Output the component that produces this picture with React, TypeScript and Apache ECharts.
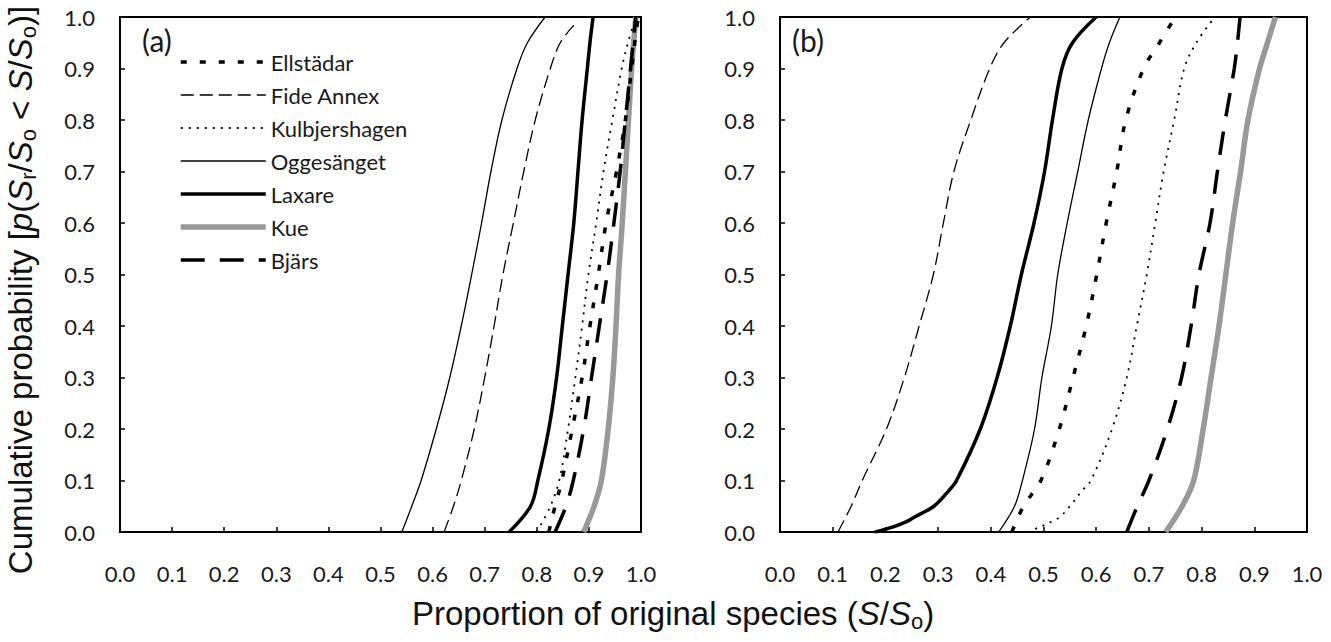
import React, { useEffect, useRef } from "react";
import * as echarts from "echarts";

// probability levels (y) shared by most readings
const P = [0, 0.05, 0.1, 0.2, 0.3, 0.4, 0.5, 0.6, 0.7, 0.8, 0.9, 0.95, 1.0];
const P_FIDE_A = [0, 0.05, 0.1, 0.2, 0.3, 0.4, 0.5, 0.6, 0.7, 0.8, 0.9, 0.95, 0.985];
const P_TOE = [0, 0.01, 0.02, 0.03, 0.05, 0.08, 0.1, 0.2, 0.3, 0.4, 0.5, 0.6, 0.7, 0.8, 0.9, 0.95, 1.0];

// panel (a): proportion of original species at each probability level
const aEllstadar = [0.823, 0.835, 0.848, 0.868, 0.887, 0.902, 0.918, 0.933, 0.953, 0.97, 0.982, 0.988, 0.995];
const aFide = [0.622, 0.64, 0.655, 0.68, 0.7, 0.718, 0.735, 0.755, 0.775, 0.797, 0.826, 0.845, 0.872];
const aKulbj = [0.8, 0.826, 0.843, 0.86, 0.874, 0.887, 0.899, 0.914, 0.928, 0.945, 0.963, 0.975, 0.99];
const aOgges = [0.541, 0.56, 0.578, 0.607, 0.633, 0.655, 0.675, 0.694, 0.712, 0.733, 0.762, 0.782, 0.816];
const aLaxare = [0.747, 0.788, 0.802, 0.823, 0.838, 0.849, 0.86, 0.871, 0.879, 0.887, 0.897, 0.902, 0.908];
const aKue = [0.89, 0.91, 0.924, 0.937, 0.946, 0.952, 0.957, 0.964, 0.97, 0.976, 0.982, 0.986, 0.99];
const aBjars = [0.835, 0.856, 0.87, 0.89, 0.905, 0.92, 0.935, 0.948, 0.96, 0.97, 0.98, 0.985, 0.99];

// panel (b)
const bEllstadar = [0.44, 0.462, 0.495, 0.53, 0.556, 0.581, 0.601, 0.619, 0.639, 0.656, 0.69, 0.72, 0.75];
const bFide = [0.11, 0.135, 0.156, 0.202, 0.236, 0.264, 0.291, 0.31, 0.33, 0.362, 0.398, 0.425, 0.475];
const bKulbj = [0.47, 0.494, 0.515, 0.532, 0.55, 0.573, 0.59, 0.63, 0.658, 0.677, 0.696, 0.712, 0.728, 0.748, 0.767, 0.79, 0.825];
const bOgges = [0.415, 0.445, 0.46, 0.483, 0.497, 0.515, 0.527, 0.545, 0.565, 0.585, 0.61, 0.625, 0.645];
const bLaxare = [0.18, 0.215, 0.24, 0.257, 0.292, 0.32, 0.335, 0.38, 0.412, 0.437, 0.458, 0.482, 0.502, 0.517, 0.535, 0.555, 0.6];
const bKue = [0.732, 0.763, 0.785, 0.803, 0.818, 0.833, 0.846, 0.859, 0.874, 0.888, 0.91, 0.925, 0.94];
const bBjars = [0.658, 0.678, 0.7, 0.735, 0.762, 0.78, 0.795, 0.816, 0.83, 0.845, 0.862, 0.868, 0.873];

const SITES = ["Ellstädar", "Fide Annex", "Kulbjershagen", "Oggesänget", "Laxare", "Kue", "Bjärs"];
const TICK_FONT = "Lato, 'Open Sans', sans-serif";
const TITLE_FONT = "'Liberation Sans', Arial, sans-serif";

const styles: Record<string, any> = {
  "Ellstädar": { color: "#000", width: 3.5, type: [6, 13] },
  "Fide Annex": { color: "#000", width: 1.3, type: [13, 6] },
  "Kulbjershagen": { color: "#000", width: 1.8, type: [2, 6] },
  "Oggesänget": { color: "#000", width: 1.3, type: "solid" },
  "Laxare": { color: "#000", width: 3.5, type: "solid" },
  "Kue": { color: "#999999", width: 5.5, type: "solid" },
  "Bjärs": { color: "#000", width: 3.5, type: [24, 15] },
};

const pair = (xs: number[], ps: number[]) => xs.map((x, i) => [x, ps[i]]);

function mkSeries(name: string, data: number[][], idx: number) {
  const s = styles[name];
  return {
    type: "line",
    name,
    xAxisIndex: idx,
    yAxisIndex: idx,
    data,
    showSymbol: false,
    symbol: "none",
    smooth: 0.35,
    lineStyle: { color: s.color, width: s.width, type: s.type, cap: "butt" },
    itemStyle: { color: s.color },
    z: name === "Kue" ? 1 : 2,
  };
}

export default function App() {
  const ref = useRef<HTMLDivElement>(null);
  useEffect(() => {
    if (!ref.current) return;
    const chart = echarts.init(ref.current, undefined, { renderer: "svg" });
    const axisBase = (gridIndex: number, margin: number) => ({
      type: "value",
      gridIndex,
      min: 0,
      max: 1,
      interval: 0.1,
      axisLine: { show: true, onZero: false, lineStyle: { color: "#000", width: 2 } },
      axisTick: { show: true, inside: true, length: 5, lineStyle: { color: "#000", width: 1.5 } },
      axisLabel: {
        margin,
        fontSize: 22,
        fontFamily: TICK_FONT,
        color: "#1a1a1a",
        formatter: (v: number) => v.toFixed(1),
      },
      splitLine: { show: false },
    });

    const aData: Record<string, number[][]> = {
      "Ellstädar": pair(aEllstadar, P),
      "Fide Annex": pair(aFide, P_FIDE_A),
      "Kulbjershagen": pair(aKulbj, P),
      "Oggesänget": pair(aOgges, P),
      "Laxare": pair(aLaxare, P),
      "Kue": pair(aKue, P),
      "Bjärs": pair(aBjars, P),
    };
    const bData: Record<string, number[][]> = {
      "Ellstädar": pair(bEllstadar, P),
      "Fide Annex": pair(bFide, P),
      "Kulbjershagen": pair(bKulbj, P_TOE),
      "Oggesänget": pair(bOgges, P),
      "Laxare": pair(bLaxare, P_TOE),
      "Kue": pair(bKue, P),
      "Bjärs": pair(bBjars, P),
    };

    const series: any[] = [];
    SITES.forEach((n) => series.push(mkSeries(n, aData[n], 0)));
    SITES.forEach((n) => series.push(mkSeries(n, bData[n], 1)));

    const rich = {
      i: { fontSize: 33, fontStyle: "italic", fontFamily: TITLE_FONT, fill: "#111" },
      s: { fontSize: 22, padding: [15, 0, 0, 0], fontFamily: TITLE_FONT, fill: "#111" },
    };

    chart.setOption({
      animation: false,
      backgroundColor: "#fff",
      grid: [
        { left: 120, top: 17, width: 521, height: 515, show: true, borderColor: "#000", borderWidth: 2, backgroundColor: "transparent" },
        { left: 780, top: 17, width: 527, height: 515, show: true, borderColor: "#000", borderWidth: 2, backgroundColor: "transparent" },
      ],
      xAxis: [axisBase(0, 30), axisBase(1, 30)],
      yAxis: [axisBase(0, 25), axisBase(1, 25)],
      legend: {
        data: SITES.map((n) => ({
          name: n,
          itemStyle: { opacity: 0 },
          lineStyle: { width: styles[n].width, type: styles[n].type, color: styles[n].color, cap: "butt" },
        })),
        orient: "vertical",
        left: 178,
        top: 51,
        padding: 0,
        itemWidth: 85,
        itemHeight: 14,
        itemGap: 11,
        itemStyle: { opacity: 0 },
        textStyle: { fontSize: 22, fontFamily: TICK_FONT, color: "#1a1a1a" },
        selectedMode: false,
      },
      graphic: [
        { type: "text", left: 142, top: 25, style: { text: "(a)", fontSize: 30, fontFamily: TICK_FONT, fill: "#1a1a1a" } },
        { type: "text", left: 792, top: 25, style: { text: "(b)", fontSize: 30, fontFamily: TICK_FONT, fill: "#1a1a1a" } },
        {
          type: "text",
          left: 412,
          top: 597,
          style: {
            text: "Proportion of original species ({i|S}/{i|S}{s|o})",
            fontSize: 33,
            fontFamily: TITLE_FONT,
            fill: "#111",
            rich,
          },
        },
        {
          type: "text",
          x: 2,
          y: 290,
          rotation: Math.PI / 2,
          style: {
            text: "Cumulative probability [{i|p}({i|S}{s|r}/{i|S}{s|o} < {i|S}/{i|S}{s|o})]",
            fontSize: 33,
            fontFamily: TITLE_FONT,
            fill: "#111",
            align: "center",
            verticalAlign: "top",
            rich,
          },
        },
      ],
      series,
    });
    return () => chart.dispose();
  }, []);
  return <div ref={ref} style={{ position: "fixed", left: 0, top: 0, width: 1331, height: 642, background: "#fff" }} />;
}
